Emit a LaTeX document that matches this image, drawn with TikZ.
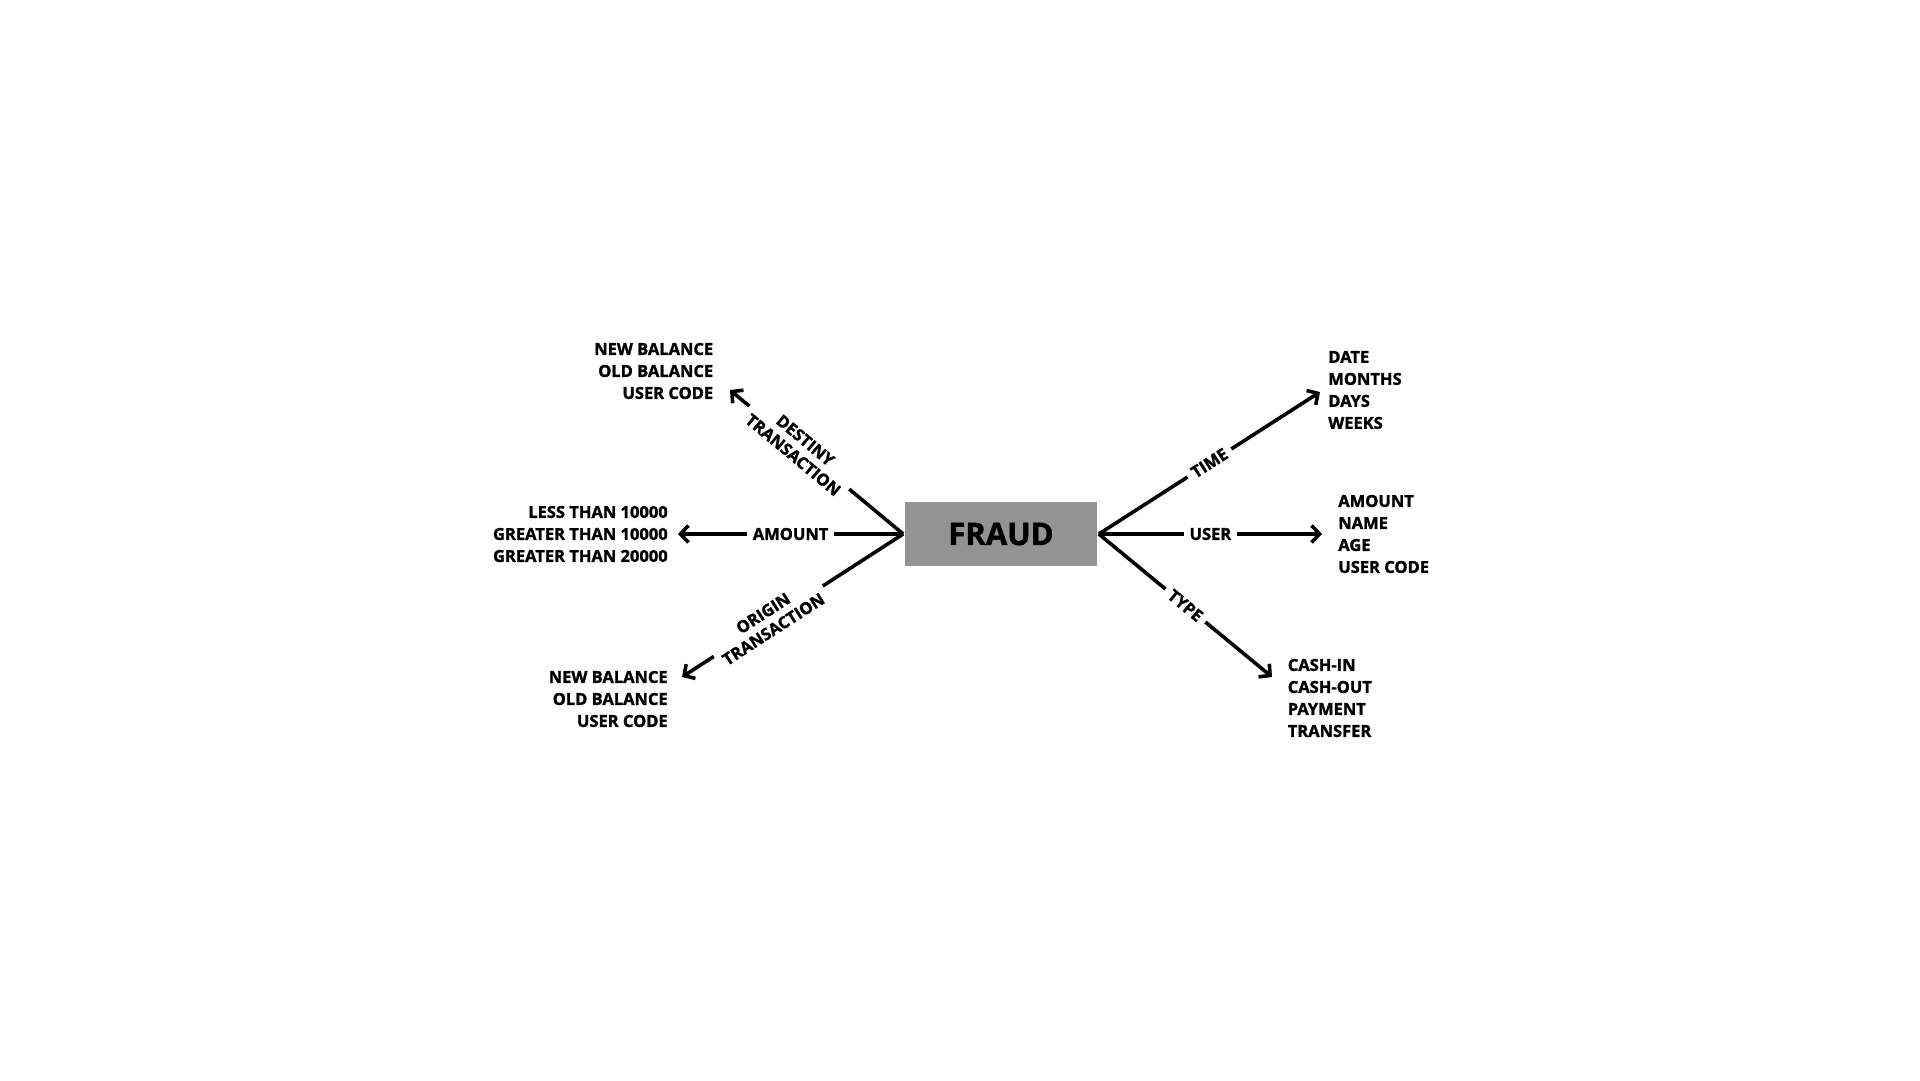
\documentclass[tikz,border=0pt]{standalone}
\usepackage{fontspec}
\setmainfont{Open Sans}[BoldFeatures={FakeBold=1.5}]
\usetikzlibrary{arrows.meta}
\definecolor{fraudgray}{HTML}{939393}

\begin{document}
\begin{tikzpicture}[x=1pt,y=-1pt,line width=3.6pt,>={Straight Barb[length=8pt,width=17pt]},
	main node/.style={rectangle,fill=fraudgray,minimum width=192pt,minimum height=64pt,inner sep=0pt,font=\fontsize{31}{36}\selectfont\bfseries},
	list node/.style={inner sep=0pt,font=\fontsize{16.5}{22}\selectfont\bfseries},
	edge node/.style={fill=white,inner xsep=6pt,inner ysep=1pt,align=center,font=\fontsize{16.5}{19}\selectfont\bfseries}]

	\useasboundingbox (0,0) rectangle (1920,1080);

	\node[main node] (fraud) at (1001,534) {FRAUD};

	% end points of the arrows
	\coordinate (dtip) at (730,390);
	\coordinate (atip) at (678,534);
	\coordinate (otip) at (682,677);
	\coordinate (ttip) at (1320,392);
	\coordinate (utip) at (1322,534);
	\coordinate (ytip) at (1272,677);

	\node[list node,align=right,anchor=east] (destiny) at (715,371) {NEW BALANCE\\OLD BALANCE\\USER CODE};
	\node[list node,align=right,anchor=east] (amount) at (669.5,534) {LESS THAN 10000\\GREATER THAN 10000\\GREATER THAN 20000};
	\node[list node,align=right,anchor=east] (origin) at (669.5,699) {NEW BALANCE\\OLD BALANCE\\USER CODE};
	\node[list node,align=left,anchor=west] (time) at (1326.5,390) {DATE\\MONTHS\\DAYS\\WEEKS};
	\node[list node,align=left,anchor=west] (user) at (1336.5,534) {AMOUNT\\NAME\\AGE\\USER CODE};
	\node[list node,align=left,anchor=west] (type) at (1286,698) {CASH-IN\\CASH-OUT\\PAYMENT\\TRANSFER};

	\path[->,every node/.style={edge node}]
	(fraud.west) edge node[sloped,pos=0.6] {DESTINY\\TRANSACTION} (dtip)
	(fraud.west) edge node {AMOUNT} (atip)
	(fraud.west) edge node[sloped,pos=0.61] {ORIGIN\\TRANSACTION} (otip)
	(fraud.east) edge node[sloped] {TIME} (ttip)
	(fraud.east) edge node {USER} (utip)
	(fraud.east) edge node[sloped] {TYPE} (ytip);

\end{tikzpicture}
\end{document}
